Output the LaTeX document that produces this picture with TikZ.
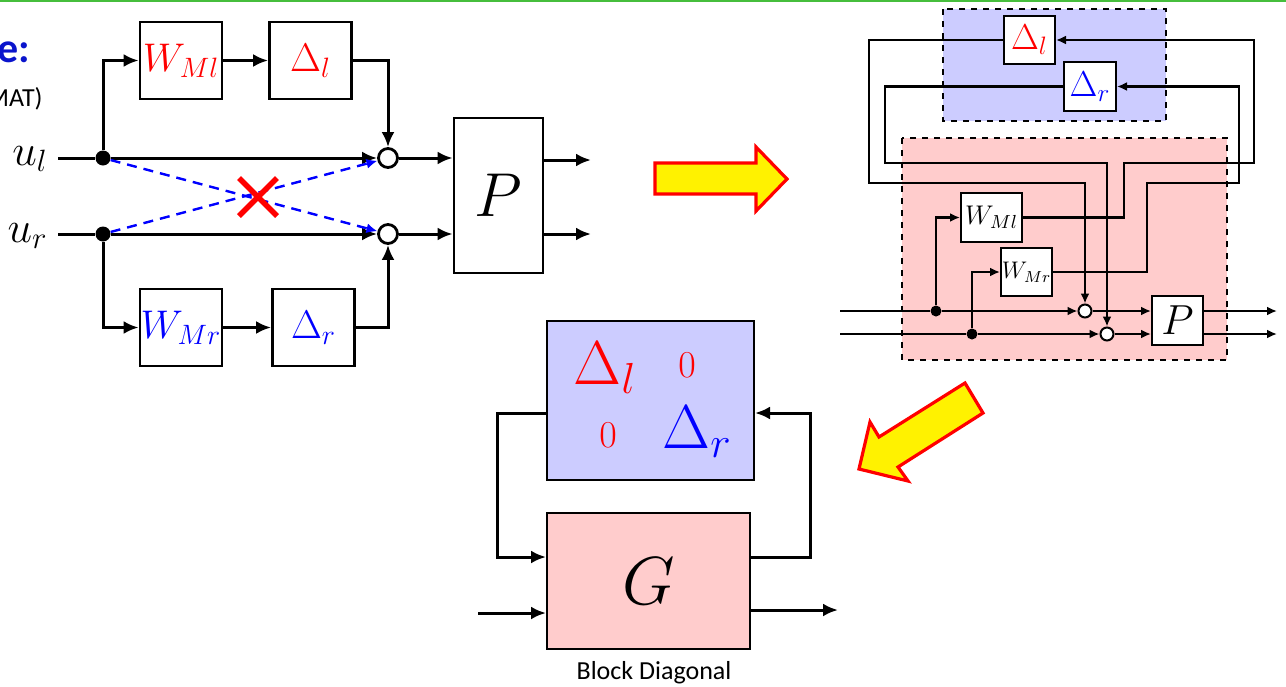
\documentclass[tikz,border=0pt]{standalone}
\usepackage{fix-cm}
\usepackage{fontspec}
\newfontfamily\calibri{Carlito}
\usetikzlibrary{arrows.meta,positioning}
\definecolor{paleblue}{RGB}{204,204,255}
\definecolor{palered}{RGB}{255,204,204}
\definecolor{slidegreen}{RGB}{70,190,60}
\definecolor{titleblue}{RGB}{10,20,204}
\newcommand{\fsz}[1]{\fontsize{#1}{#1}\selectfont}
\tikzset{
  wire/.style={line width=1.5pt},
  sig/.style={wire, -{Latex[length=7.5pt,width=6.5pt]}},
  thin wire/.style={line width=1.1pt},
  tsig/.style={thin wire, -{Latex[length=5pt,width=4.5pt]}},
  lbox/.style={draw, line width=1.4pt, fill=white, minimum width=41pt, minimum height=38.5pt, inner sep=0pt, font=\fsz{20}},
  sbox/.style={draw, line width=1pt, fill=white, inner sep=0pt},
  jdot/.style={circle, fill=black, inner sep=0pt, minimum size=#1},
  jdot/.default=7.5pt,
  jsum/.style={circle, draw, fill=white, inner sep=0pt, minimum size=#1},
  jsum/.default=9.5pt,
  fatarrow/.style={fill=yellow, draw=red, line width=1.6pt},
}
\begin{document}
\begin{tikzpicture}[x=0.5pt, y=-0.5pt]
\useasboundingbox (0,0) rectangle (1286,686);
\draw[slidegreen, line width=1pt] (0,1) -- (1286,1);
\node[anchor=east, inner sep=0pt, text=titleblue, font=\calibri\bfseries\fsz{21}] (ttl) at (31,52) {e:};
\node[anchor=east, inner sep=0pt, font=\calibri\fsz{13}] (sub) at (43,99) {MAT)};

\node[jdot] (dotl) at (103,158) {};
\node[jdot] (dotr) at (103,234) {};
\node[anchor=base east, inner xsep=5pt, font=\fsz{22}] (ul) at (58,165) {$u_l$};
\node[anchor=base east, inner xsep=5pt, font=\fsz{22}] (ur) at (58,242) {$u_r$};
\node[lbox, text=red] (wml) at (181,60.5) {$W_{Ml}$};
\node[lbox, text=red] (dl) at (310.5,60.5) {$\Delta_l$};
\node[lbox, text=blue] (wmr) at (181,327.5) {$W_{Mr}$};
\node[lbox, text=blue] (dr) at (313.5,327.5) {$\Delta_r$};
\node[jsum, line width=1.4pt] (sl) at (388,158) {};
\node[jsum, line width=1.4pt] (sr) at (388,234) {};
\node[lbox, minimum width=44.5pt, minimum height=77.5pt, font=\fsz{31}] (pl) at (498.5,195.5) {$P$};
\coordinate (yl) at (591,160);
\coordinate (yr) at (591,234);
\draw[wire] (ul.east |- dotl) -- (dotl);
\draw[wire] (ur.east |- dotr) -- (dotr);
\draw[sig] (dotl) |- (wml);
\draw[sig] (wml) -- (dl);
\draw[sig] (dl) -| (sl);
\draw[sig] (dotl) -- (sl);
\draw[sig] (sl) -- (sl -| pl.west);
\draw[sig] (dotr) |- (wmr);
\draw[sig] (wmr) -- (dr);
\draw[sig] (dr) -| (sr);
\draw[sig] (dotr) -- (sr);
\draw[sig] (sr) -- (sr -| pl.west);
\draw[sig] (yl -| pl.east) -- (yl);
\draw[sig] (yr -| pl.east) -- (yr);
\draw[blue, line width=1.2pt, dash pattern=on 5pt off 3.5pt, -{Latex[length=5.5pt,width=5pt]}] (dotl) -- (sr);
\draw[blue, line width=1.2pt, dash pattern=on 5pt off 3.5pt, -{Latex[length=5.5pt,width=5pt]}] (dotr) -- (sl);
\draw[red, line width=2.8pt] (239,178) -- (277,216) (239,216) -- (277,178);

\draw[fatarrow] (655,163) -- (756,163) -- (756,147) -- (787,179) -- (756,211) -- (756,194) -- (655,194) -- cycle;

\draw[dashed, fill=paleblue, line width=0.9pt] (943,9) rectangle (1166,121);
\draw[dashed, fill=palered, line width=0.9pt] (902,138) rectangle (1227,360);
\node[sbox, minimum width=25.5pt, minimum height=24pt, text=red, font=\fsz{18}] (dl2) at (1029.5,40) {$\Delta_l$};
\node[sbox, minimum width=26pt, minimum height=24.5pt, text=blue, font=\fsz{18}] (dr2) at (1090,86.5) {$\Delta_r$};
\node[sbox, minimum width=30.5pt, minimum height=24.5pt, font=\fsz{13.5}] (wml2) at (991.5,217.5) {$W_{Ml}$};
\node[sbox, minimum width=25.5pt, minimum height=24pt, font=\fsz{12}] (wmr2) at (1026.5,272) {$W_{Mr}$};
\node[sbox, minimum width=25.5pt, minimum height=24.5pt, font=\fsz{21}] (p2) at (1177.5,320.5) {$P$};
\node[jdot=5.5pt] (d1) at (936,311) {};
\node[jdot=5.5pt] (d2) at (972,334) {};
\node[jsum=6.5pt, line width=1pt] (c1) at (1085,311) {};
\node[jsum=6.5pt, line width=1pt] (c2) at (1107,334) {};
\coordinate (i1) at (840,311);
\coordinate (i2) at (840,334);
\coordinate (o1) at (1277,311);
\coordinate (o2) at (1277,334);
\draw[thin wire] (i1) -- (d1);
\draw[tsig] (d1) -- (c1);
\draw[thin wire] (i2) -- (d2);
\draw[tsig] (d2) -- (c2);
\draw[tsig] (d1) |- (wml2);
\draw[tsig] (d2) |- (wmr2);
\draw[tsig] (c1) -- (c1 -| p2.west);
\draw[tsig] (c2) -- (c2 -| p2.west);
\draw[tsig] (c1 -| p2.east) -- (o1);
\draw[tsig] (c2 -| p2.east) -- (o2);
\draw[tsig] (dl2) -| (869,183) -| (c1);
\draw[tsig] (dr2) -| (885,163) -| (c2);
\draw[tsig] (wml2) -| (1124,163) -| (1254,40) -- (dl2);
\draw[tsig] (wmr2) -| (1147,183) -| (1239,86.5) -- (dr2);

\draw[fatarrow] (859,469) -- (870,422) -- (879,437) -- (965,383) -- (983,413) -- (898,467) -- (908,481) -- cycle;

\node[draw, line width=1pt, fill=paleblue, minimum width=103.5pt, minimum height=79.5pt] (dbox) at (650.5,400.5) {};
\node[text=red, font=\fsz{31}] (e11) at (605,368) {$\Delta_l$};
\node[text=red, font=\fsz{19}] (e12) at (687,365) {$0$};
\node[text=red, font=\fsz{19}] (e21) at (608,435) {$0$};
\node[text=blue, font=\fsz{31}] (e22) at (697,432) {$\Delta_r$};
\node[draw, line width=1pt, fill=palered, minimum width=101.5pt, minimum height=68pt, font=\fsz{34}] (gbox) at (648.5,581) {$G$};
\coordinate (fl) at (497,413);
\coordinate (fr) at (810,413);
\coordinate (gi) at (478,613);
\coordinate (go) at (838,610);
\draw[sig] (fl -| dbox.west) -- (fl) |- ([yshift=12pt]gbox.west);
\draw[sig] ([yshift=12pt]gbox.east) -| (fr) -- (fr -| dbox.east);
\draw[sig] (gi) -- (gi -| gbox.west);
\draw[sig] (go -| gbox.east) -- (go);
\node[font=\calibri\fsz{13}] (cap) at (654,673) {Block Diagonal};
\end{tikzpicture}
\end{document}
